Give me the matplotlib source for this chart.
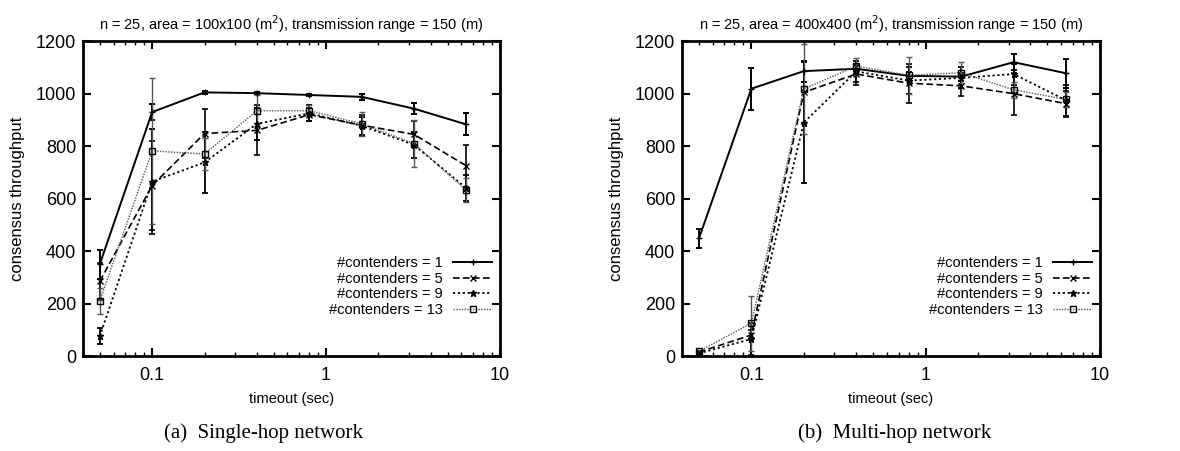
import numpy as np
import matplotlib
matplotlib.use("Agg")
import matplotlib.pyplot as plt
from matplotlib.ticker import FixedLocator, LogLocator, NullFormatter

plt.rcParams['font.family'] = ['Liberation Sans', 'DejaVu Sans']

timeout = [0.05, 0.1, 0.2, 0.4, 0.8, 1.6, 3.2, 6.4]
labels = ['#contenders = 1', '#contenders = 5', '#contenders = 9', '#contenders = 13']

# single-hop (100x100)
single_mean = [
    [350, 930, 1005, 1002, 995, 988, 943, 883],
    [285, 650, 848, 860, 920, 880, 845, 725],
    [75, 665, 738, 885, 925, 878, 805, 640],
    [210, 782, 770, 935, 935, 885, 810, 632],
]
single_err = [
    [55, 30, 5, 5, 5, 12, 20, 42],
    [70, 170, 95, 95, 25, 40, 50, 80],
    [30, 200, 115, 60, 30, 35, 50, 50],
    [50, 278, 60, 60, 20, 45, 90, 45],
]

# multi-hop (400x400)
multi_mean = [
    [448, 1019, 1086, 1095, 1068, 1065, 1120, 1078],
    [15, 80, 1005, 1075, 1040, 1030, 1000, 962],
    [10, 65, 890, 1085, 1050, 1060, 1075, 975],
    [18, 125, 1018, 1105, 1070, 1080, 1015, 978],
]
multi_err = [
    [35, 80, 40, 10, 15, 15, 30, 55],
    [5, 20, 120, 40, 75, 40, 80, 50],
    [5, 60, 230, 40, 50, 40, 40, 60],
    [5, 105, 170, 30, 70, 40, 30, 30],
]

titles = ['n = 25, area = 100x100 (m$^2$), transmission range = 150 (m)',
          'n = 25, area = 400x400 (m$^2$), transmission range = 150 (m)']
captions = ['(a)  Single-hop network', '(b)  Multi-hop network']

styles = [
    dict(ls='-', marker='+', color='black', lw=1.4, ms=5, mfc='none'),
    dict(ls=(0, (4, 2)), marker='x', color='black', lw=1.2, ms=4, mfc='none'),
    dict(ls=(0, (1.2, 1.5)), marker='*', color='black', lw=1.3, ms=5),
    dict(ls=(0, (1, 1)), marker='s', color='#555555', lw=1.0, ms=5, mfc='none', mec='black'),
]

fig = plt.figure(figsize=(11.8, 4.51), dpi=100)
axes = [fig.add_axes([0.0703, 0.2106, 0.3534, 0.698]),
        fig.add_axes([0.578, 0.2106, 0.354, 0.698])]

for k, ax in enumerate(axes):
    means = [single_mean, multi_mean][k]
    errs = [single_err, multi_err][k]
    handles = []
    for i in range(4):
        st = styles[i]
        c = ax.errorbar(timeout, means[i], yerr=errs[i], label=labels[i],
                        capsize=2.5, elinewidth=st['lw'], capthick=st['lw'], **st)
        handles.append(c.lines[0])
    ax.set_xscale('log')
    ax.set_xlim(0.04, 10)
    ax.set_ylim(0, 1200)
    ax.set_yticks(np.arange(0, 1201, 200))
    ax.xaxis.set_major_locator(FixedLocator([0.1, 1, 10]))
    ax.set_xticklabels(['0.1', '1', '10'])
    ax.xaxis.set_minor_locator(LogLocator(base=10, subs=np.arange(2, 10)))
    ax.xaxis.set_minor_formatter(NullFormatter())
    ax.tick_params(which='both', direction='in', top=True, right=True, labelsize=13)
    ax.tick_params(which='major', length=6, width=1.5)
    ax.tick_params(axis='x', which='major', pad=8)
    ax.tick_params(axis='y', which='major', pad=5)
    ax.tick_params(which='minor', length=3, width=1)
    for sp in ax.spines.values():
        sp.set_linewidth(2)
    ax.set_title(titles[k], fontsize=10.5, pad=8)
    ax.set_xlabel('timeout (sec)', fontsize=10.5, labelpad=6)
    ax.set_ylabel('consensus throughput', fontsize=12, labelpad=8)
    ax.legend(handles, labels, loc='lower right', bbox_to_anchor=(0.982, 0.125),
              markerfirst=False, frameon=False, fontsize=10.5, borderpad=0,
              handlelength=2.7, labelspacing=0.1, borderaxespad=0, handletextpad=0.7)

fig.text(0.223, 0.04, captions[0], family='Liberation Serif', fontsize=15, ha='center', va='center')
fig.text(0.758, 0.04, captions[1], family='Liberation Serif', fontsize=15, ha='center', va='center')

fig.savefig('out.png', dpi=100)
